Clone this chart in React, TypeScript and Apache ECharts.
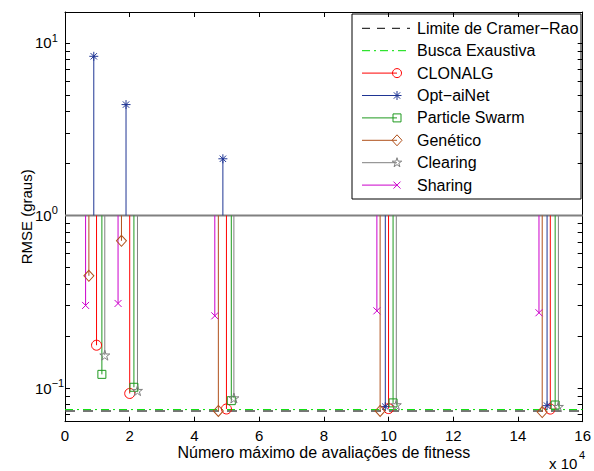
import React, { useEffect, useRef } from 'react';
import * as echarts from 'echarts';

// ---- data (x in units of 10^4 evaluations, y = RMSE in degrees) ----
const clonalgX = [0.975, 2.0, 4.99, 10.0, 15.0];
const clonalgY = [0.177, 0.093, 0.0756, 0.076, 0.0755];
const optAiNetX = [0.89, 1.886, 4.88, 9.9, 14.9];
const optAiNetY = [8.36, 4.39, 2.13, 0.078, 0.079];
const psoX = [1.14, 2.13, 5.14, 10.14, 15.15];
const psoY = [0.12, 0.101, 0.0845, 0.082, 0.0797];
const geneticX = [0.738, 1.745, 4.74, 9.74, 14.75];
const geneticY = [0.447, 0.713, 0.0736, 0.0736, 0.0726];
const clearingX = [1.23, 2.24, 5.22, 10.24, 15.25];
const clearingY = [0.155, 0.0966, 0.0875, 0.0798, 0.078];
const sharingX = [0.637, 1.64, 4.63, 9.64, 14.65];
const sharingY = [0.301, 0.309, 0.262, 0.28, 0.273];

const boundX = [0, 16];
const cramerRao = [0.0736, 0.0736];
const exhaustive = [0.075, 0.075];

const BASE_VALUE = 1;
const X_MIN = 0;
const X_MAX = 16;
const X_INTERVAL = 2;
const Y_MIN = 0.0638;
const Y_MAX = 15.1;
const yMajorTicks = [0.1, 1, 10];
const yAllTicks = [
  0.07, 0.08, 0.09, 0.1, 0.2, 0.3, 0.4, 0.5, 0.6, 0.7, 0.8, 0.9,
  1, 2, 3, 4, 5, 6, 7, 8, 9, 10,
];

const FONT = "'Liberation Sans', Arial, Helvetica, sans-serif";
const TICK_FS = 15;
const TITLE_FS = 16;
const YTITLE_FS = 15;
const LEGEND_FS = 16;

const C_CLONALG = '#ff0000';
const C_OPT = '#1f3594';
const C_PSO = '#1f9a1f';
const C_GEN = '#b0501a';
const C_CLEAR = '#808080';
const C_SHARE = '#cc00cc';
const C_CR = '#4a4a4a';
const C_BUSCA = '#00dd00';

function starPts(cx: number, cy: number, R: number, r: number) {
  const pts: number[][] = [];
  for (let i = 0; i < 10; i++) {
    const a = -Math.PI / 2 + (i * Math.PI) / 5;
    const rad = i % 2 === 0 ? R : r;
    pts.push([cx + rad * Math.cos(a), cy + rad * Math.sin(a)]);
  }
  return pts;
}

const STAR_PATH =
  'path://' +
  starPts(5, 5, 5, 1.91)
    .map((p, i) => (i ? 'L' : 'M') + p[0].toFixed(3) + ',' + p[1].toFixed(3))
    .join('') +
  'Z';
const ASTERISK_PATH = 'path://M5,0L5,10M0,5L10,5M1.46,1.46L8.54,8.54M8.54,1.46L1.46,8.54';
const X_PATH = 'path://M0,0L10,10M10,0L0,10';

type Algo = {
  name: string;
  xs: number[];
  ys: number[];
  color: string;
  symbol: string;
  size: number | number[];
  kind: string;
};

const algos: Algo[] = [
  { name: 'CLONALG', xs: clonalgX, ys: clonalgY, color: C_CLONALG, symbol: 'circle', size: 10, kind: 'circle' },
  { name: 'Opt−aiNet', xs: optAiNetX, ys: optAiNetY, color: C_OPT, symbol: ASTERISK_PATH, size: 9, kind: 'asterisk' },
  { name: 'Particle Swarm', xs: psoX, ys: psoY, color: C_PSO, symbol: 'rect', size: 8, kind: 'square' },
  { name: 'Genético', xs: geneticX, ys: geneticY, color: C_GEN, symbol: 'diamond', size: [10, 11], kind: 'diamond' },
  { name: 'Clearing', xs: clearingX, ys: clearingY, color: C_CLEAR, symbol: STAR_PATH, size: 10, kind: 'star' },
  { name: 'Sharing', xs: sharingX, ys: sharingY, color: C_SHARE, symbol: X_PATH, size: 7, kind: 'x' },
];

function legendMarker(kind: string, cx: number, cy: number, color: string): any {
  const st = { stroke: color, fill: 'none', lineWidth: 1 };
  switch (kind) {
    case 'circle':
      return { type: 'circle', shape: { cx, cy, r: 4.5 }, style: st };
    case 'square':
      return { type: 'rect', shape: { x: cx - 4, y: cy - 4, width: 8, height: 8 }, style: st };
    case 'diamond':
      return { type: 'polygon', shape: { points: [[cx, cy - 5.5], [cx + 5, cy], [cx, cy + 5.5], [cx - 5, cy]] }, style: st };
    case 'star':
      return { type: 'polygon', shape: { points: starPts(cx, cy, 5, 1.91) }, style: st };
    case 'x':
      return {
        type: 'group',
        children: [
          { type: 'line', shape: { x1: cx - 3.5, y1: cy - 3.5, x2: cx + 3.5, y2: cy + 3.5 }, style: st },
          { type: 'line', shape: { x1: cx + 3.5, y1: cy - 3.5, x2: cx - 3.5, y2: cy + 3.5 }, style: st },
        ],
      };
    case 'asterisk':
    default:
      return {
        type: 'group',
        children: [
          { type: 'line', shape: { x1: cx, y1: cy - 4.5, x2: cx, y2: cy + 4.5 }, style: st },
          { type: 'line', shape: { x1: cx - 4.5, y1: cy, x2: cx + 4.5, y2: cy }, style: st },
          { type: 'line', shape: { x1: cx - 3.2, y1: cy - 3.2, x2: cx + 3.2, y2: cy + 3.2 }, style: st },
          { type: 'line', shape: { x1: cx + 3.2, y1: cy - 3.2, x2: cx - 3.2, y2: cy + 3.2 }, style: st },
        ],
      };
  }
}

function buildLegend(): any[] {
  const bx = 352;
  const by = 14;
  const bw = 229;
  const bh = 185;
  const row0 = 28.3;
  const step = 22.4;
  const lx1 = 362;
  const lx2 = 410;
  const mx = 397;
  const tx = 417;
  const children: any[] = [
    { type: 'rect', shape: { x: bx, y: by, width: bw, height: bh }, style: { fill: '#fff', stroke: '#000', lineWidth: 1 } },
  ];
  const textStyle = (text: string, y: number) => ({
    type: 'text',
    x: tx,
    y,
    style: { text, fill: '#000', font: `${LEGEND_FS}px ${FONT}`, verticalAlign: 'middle' },
  });
  children.push({ type: 'line', shape: { x1: lx1, y1: row0, x2: lx2, y2: row0 }, style: { stroke: '#000', lineWidth: 1, lineDash: [8, 7] } });
  children.push(textStyle('Limite de Cramer−Rao', row0));
  const r1 = row0 + step;
  children.push({ type: 'line', shape: { x1: lx1, y1: r1, x2: lx2, y2: r1 }, style: { stroke: C_BUSCA, lineWidth: 1, lineDash: [8, 4, 2, 4] } });
  children.push(textStyle('Busca Exaustiva', r1));
  algos.forEach((a, i) => {
    const y = row0 + step * (i + 2);
    children.push({ type: 'line', shape: { x1: lx1, y1: y, x2: mx, y2: y }, style: { stroke: a.color, lineWidth: 1 } });
    children.push(legendMarker(a.kind, mx, y, a.color));
    children.push(textStyle(a.name, y));
  });
  return [{ type: 'group', silent: true, z: 100, children }];
}

export default function App() {
  const ref = useRef<HTMLDivElement>(null);

  useEffect(() => {
    if (!ref.current) return;
    const chart = echarts.init(ref.current, undefined, { renderer: 'svg' });

    const stemSeries = algos.map((a) => ({
      type: 'custom',
      name: a.name + ' stem',
      coordinateSystem: 'cartesian2d',
      silent: true,
      z: 3,
      encode: { x: 0, y: 1 },
      data: a.xs.map((x, i) => [x, a.ys[i]]),
      renderItem: (_p: any, api: any) => {
        const x = api.value(0);
        const y = api.value(1);
        const p0 = api.coord([x, BASE_VALUE]);
        const p1 = api.coord([x, y]);
        return {
          type: 'line',
          shape: { x1: p0[0], y1: p0[1], x2: p1[0], y2: p1[1] },
          style: { stroke: a.color, lineWidth: 1 },
        };
      },
    }));

    const markerSeries = algos.map((a) => ({
      type: 'scatter',
      name: a.name,
      silent: true,
      z: 4,
      symbol: a.symbol,
      symbolSize: a.size,
      itemStyle: { color: 'rgba(0,0,0,0)', borderColor: a.color, borderWidth: 1, opacity: 1 },
      data: a.xs.map((x, i) => [x, a.ys[i]]),
    }));

    const axisCommonX = {
      type: 'value',
      min: X_MIN,
      max: X_MAX,
      interval: X_INTERVAL,
      splitLine: { show: false },
      axisLine: { show: true, onZero: false, lineStyle: { color: '#000', width: 1 } },
      axisTick: { show: true, inside: true, length: 5, lineStyle: { color: '#000', width: 1 } },
    };
    const axisCommonY = {
      type: 'log',
      logBase: 10,
      min: Y_MIN,
      max: Y_MAX,
      splitLine: { show: false },
      minorTick: { show: false },
      axisLine: { show: true, onZero: false, lineStyle: { color: '#000', width: 1 } },
      axisTick: { show: true, inside: true, length: 5, customValues: yAllTicks, lineStyle: { color: '#000', width: 1 } },
    };

    chart.setOption({
      animation: false,
      backgroundColor: '#fff',
      textStyle: { fontFamily: FONT },
      grid: { left: 65, right: 9.5, top: 12, bottom: 49.3, containLabel: false },
      xAxis: [
        {
          ...axisCommonX,
          position: 'bottom',
          name: 'Número máximo de avaliações de fitness',
          nameLocation: 'middle',
          nameGap: 23,
          nameMoveOverlap: false,
          nameTextStyle: { fontSize: TITLE_FS, color: '#000', fontFamily: FONT },
          axisLabel: { show: true, fontSize: TICK_FS, color: '#000', fontFamily: FONT, margin: 6 },
        },
        { ...axisCommonX, position: 'top', axisLabel: { show: false } },
      ],
      yAxis: [
        {
          ...axisCommonY,
          position: 'left',
          name: 'RMSE (graus)',
          nameLocation: 'middle',
          nameGap: 31,
          nameMoveOverlap: false,
          nameTextStyle: { fontSize: YTITLE_FS, color: '#000', fontFamily: FONT },
          axisLabel: {
            show: true,
            customValues: yMajorTicks,
            margin: 30,
            align: 'left',
            formatter: (v: number) => {
              const e = Math.round(Math.log10(v));
              return `{b|10}{s|${e < 0 ? '−' + Math.abs(e) : e}}`;
            },
            rich: {
              b: { fontSize: TICK_FS, color: '#000', fontFamily: FONT },
              s: { fontSize: 11, color: '#000', fontFamily: FONT, padding: [0, 0, 10, 0] },
            },
          },
        },
        { ...axisCommonY, position: 'right', axisLabel: { show: false } },
      ],
      graphic: [
        ...buildLegend(),
        {
          type: 'text',
          x: 549,
          y: 463,
          silent: true,
          style: { text: 'x 10', fill: '#000', font: `${TICK_FS}px ${FONT}`, verticalAlign: 'middle' },
        },
        {
          type: 'text',
          x: 579,
          y: 455,
          silent: true,
          style: { text: '4', fill: '#000', font: `11px ${FONT}`, verticalAlign: 'middle' },
        },
      ],
      series: [
        {
          type: 'line',
          name: 'Baseline',
          silent: true,
          z: 2,
          symbol: 'none',
          data: boundX.map((x) => [x, BASE_VALUE]),
          lineStyle: { color: '#808080', width: 2 },
        },
        {
          type: 'line',
          name: 'Limite de Cramer−Rao',
          silent: true,
          z: 2,
          symbol: 'none',
          data: boundX.map((x, i) => [x, cramerRao[i]]),
          lineStyle: { color: C_CR, width: 1.5, type: [10, 8] },
        },
        {
          type: 'line',
          name: 'Busca Exaustiva',
          silent: true,
          z: 2,
          symbol: 'none',
          data: boundX.map((x, i) => [x, exhaustive[i]]),
          lineStyle: { color: C_BUSCA, width: 1, type: [8, 4, 2, 4] },
        },
        ...stemSeries,
        ...markerSeries,
      ],
    });

    return () => chart.dispose();
  }, []);

  return <div ref={ref} style={{ position: 'fixed', left: 0, top: 0, width: 594, height: 471 }} />;
}
